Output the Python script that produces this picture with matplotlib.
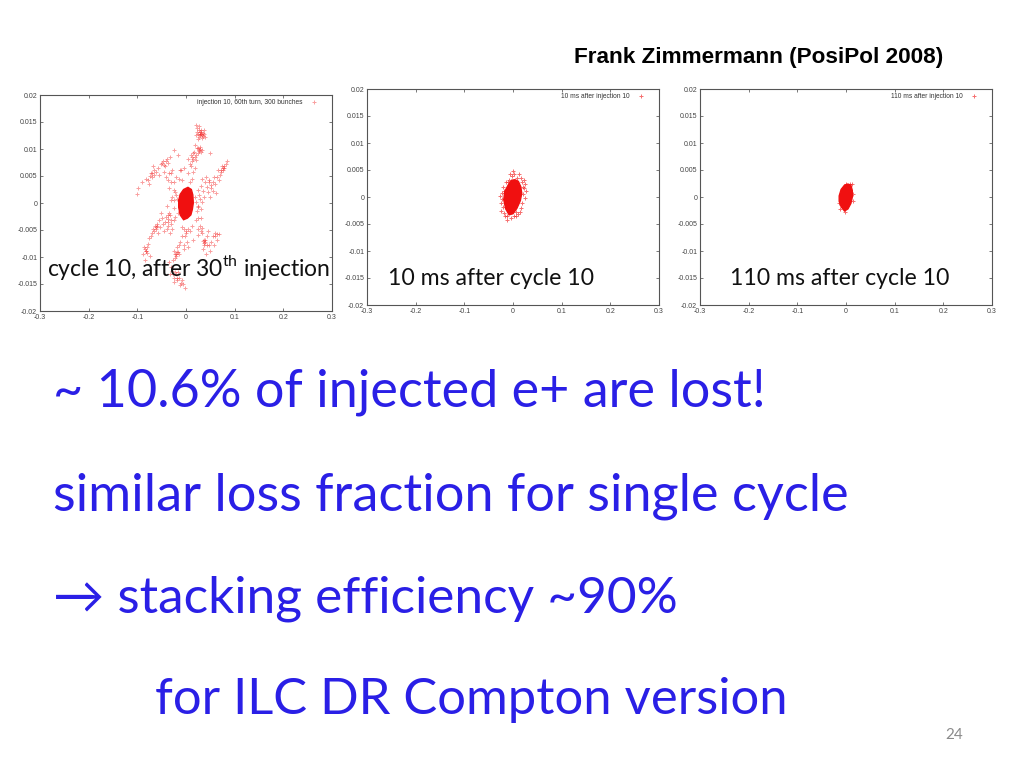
"""Slide: positron stacking losses, three phase-space snapshots plus text."""
import matplotlib
matplotlib.use("Agg")
import matplotlib.pyplot as plt

plt.rcParams.update({
    "font.family": ["Lato", "DejaVu Sans"],
    "mathtext.fontset": "custom",
    "mathtext.rm": "Lato",
    "axes.linewidth": 0.8,
    "axes.edgecolor": "#555555",
})

W, H = 1024, 768
COL_TEXT = "#2A1FE6"
COL_POINTS = "#F01010"
COL_TICK = "#444444"

X_TICKS = [-0.3, -0.2, -0.1, 0, 0.1, 0.2, 0.3]
Y_TICKS = [-0.02, -0.015, -0.01, -0.005, 0, 0.005, 0.01, 0.015, 0.02]
X_LABELS = ["-0.3", "-0.2", "-0.1", "0", "0.1", "0.2", "0.3"]
Y_LABELS = ["-0.02", "-0.015", "-0.01", "-0.005", "0", "0.005", "0.01", "0.015", "0.02"]

# panel 1 halo
HEAD_X = [0.02, 0.023, 0.026, 0.03, 0.034, 0.038, 0.04, 0.025, 0.029, 0.033, 0.021, 0.036, 0.024, 0.028, 0.031, 0.027, 0.035, 0.022]
HEAD_Y = [0.0145, 0.0138, 0.0142, 0.0135, 0.013, 0.0128, 0.0122, 0.0128, 0.0125, 0.012, 0.0125, 0.0135, 0.0118, 0.0132, 0.0128, 0.0122, 0.0124, 0.0132]
NECK_X = [0.018, 0.022, 0.026, 0.03, 0.028, 0.024, 0.032, 0.05, 0.005, 0.01, 0.014, 0.018, 0.012, 0.008, 0.02, 0.016, -0.025, -0.017]
NECK_Y = [0.0108, 0.0102, 0.0098, 0.0095, 0.0103, 0.0092, 0.0098, 0.0093, 0.0082, 0.0088, 0.0092, 0.0085, 0.0078, 0.0072, 0.0079, 0.0095, 0.0098, 0.0088]
ARM_L_X = [-0.1, -0.098, -0.09, -0.082, -0.078, -0.072, -0.07, -0.066, -0.062, -0.058, -0.052, -0.048, -0.044, -0.04, -0.036, -0.032, -0.028, -0.055, -0.046, -0.076, -0.068, -0.042, -0.038, -0.03, -0.025, -0.02, -0.035, -0.022, -0.015, -0.01]
ARM_L_Y = [0.0017, 0.0028, 0.0038, 0.0045, 0.0042, 0.0055, 0.0048, 0.0062, 0.0058, 0.0065, 0.0072, 0.0078, 0.0068, 0.0082, 0.0075, 0.0085, 0.0062, 0.0052, 0.0058, 0.0035, 0.0068, 0.0048, 0.0042, 0.0055, 0.0038, 0.0048, 0.0028, 0.002, 0.0045, 0.0062]
ARM_R_X = [0.025, 0.03, 0.035, 0.04, 0.044, 0.048, 0.052, 0.056, 0.06, 0.064, 0.068, 0.072, 0.075, 0.078, 0.082, 0.085, 0.07, 0.058, 0.046, 0.038, 0.05, 0.042, 0.062, 0.033, 0.055, 0.066, 0.074]
ARM_R_Y = [0.0025, 0.0032, 0.0022, 0.0038, 0.003, 0.0042, 0.0028, 0.0022, 0.0035, 0.0048, 0.0042, 0.0058, 0.0062, 0.0065, 0.0072, 0.0078, 0.0052, 0.0048, 0.002, 0.0012, 0.0012, 0.0048, 0.0018, 0.0045, 0.0038, 0.0062, 0.0068]
TORSO_X = [-0.04, -0.035, -0.03, -0.028, -0.025, -0.02, -0.022, -0.03, -0.018, 0.02, 0.025, 0.028, 0.03, 0.022, 0.032, 0.018, 0.024, -0.016, -0.024, 0.012, 0.005, -0.008, 0.015, 0.008, -0.005, 0.01]
TORSO_Y = [-0.0005, -0.0018, 0.0005, 0.0012, -0.001, 0.0015, -0.0025, -0.0032, 0.0008, 0.0002, -0.0005, 0.0008, -0.0012, -0.0015, 0.0002, 0.0012, -0.0028, -0.0018, 0.0025, 0.0045, 0.0055, 0.0042, 0.0058, 0.0038, 0.0065, 0.0068]
LEG_L_X = [-0.088, -0.085, -0.082, -0.08, -0.084, -0.078, -0.076, -0.072, -0.07, -0.068, -0.066, -0.064, -0.062, -0.06, -0.056, -0.054, -0.05, -0.048, -0.044, -0.042, -0.04, -0.036, -0.032, -0.03, -0.028, -0.025, -0.058, -0.046, -0.038, -0.074, -0.052]
LEG_L_Y = [-0.0095, -0.0085, -0.0088, -0.0082, -0.0105, -0.0075, -0.0065, -0.0062, -0.0055, -0.0048, -0.0052, -0.0042, -0.0045, -0.0038, -0.0032, -0.0045, -0.0028, -0.0038, -0.0035, -0.0025, -0.0048, -0.003, -0.0055, -0.0038, -0.0048, -0.0032, -0.0055, -0.0052, -0.0022, -0.0098, -0.0018]
LEG_R_X = [0.0, 0.004, 0.008, -0.002, 0.012, 0.02, 0.024, 0.028, 0.032, 0.036, 0.04, 0.044, 0.048, 0.052, 0.056, 0.06, 0.064, 0.068, 0.035, 0.042, 0.03, 0.025, 0.05, 0.038, 0.046, 0.058, 0.015, -0.008]
LEG_R_Y = [-0.0055, -0.0048, -0.0052, -0.0062, -0.0042, -0.0032, -0.0048, -0.0042, -0.0055, -0.0068, -0.0072, -0.0062, -0.0078, -0.0072, -0.0062, -0.0055, -0.0068, -0.0058, -0.0085, -0.0095, -0.0028, -0.006, -0.0088, -0.0078, -0.0052, -0.0078, -0.0068, -0.0045]
FOOT_X = [-0.035, -0.03, -0.026, -0.022, -0.018, -0.025, -0.02, -0.015, -0.028, -0.032, -0.024, -0.019, -0.014, -0.01, -0.006, -0.003, -0.012, -0.008, -0.016, -0.004, -0.012, -0.005, 0.002, -0.008, 0.004, -0.018, -0.022, -0.015, -0.02]
FOOT_Y = [-0.011, -0.0118, -0.0105, -0.0095, -0.009, -0.0088, -0.0098, -0.0095, -0.0125, -0.0132, -0.0138, -0.0142, -0.0138, -0.0148, -0.015, -0.0157, -0.0152, -0.0142, -0.0128, -0.0078, -0.0072, -0.0085, -0.0072, -0.0062, -0.0082, -0.0082, -0.0102, -0.0078, -0.0132]
# second pass over the denser clumps
CLUMP_X = [0.026, 0.03, 0.033, 0.028, 0.024, 0.027, 0.029, 0.012, 0.015, 0.02, -0.07, -0.066, -0.073, -0.05, -0.046, -0.042, -0.035, -0.03, 0.075, 0.079, 0.072, 0.052, 0.047, -0.083, -0.08, -0.086, -0.062, -0.059, -0.038, -0.036, 0.035, 0.038, 0.04, 0.043, 0.03, 0.032, -0.02, -0.016, -0.024, -0.018, -0.026, -0.023, 0.0, -0.004, 0.026, 0.024, -0.025, -0.012, 0.018, -0.032, 0.06, 0.064]
CLUMP_Y = [0.0135, 0.0132, 0.0126, 0.0128, 0.0102, 0.0096, 0.01, 0.0086, 0.0082, 0.0088, 0.0056, 0.0052, 0.005, 0.0074, 0.007, 0.0078, 0.0056, 0.0038, 0.0064, 0.0068, 0.0062, 0.0034, 0.0038, -0.0088, -0.0092, -0.0082, -0.0048, -0.0042, -0.0042, -0.0036, -0.007, -0.0074, -0.0068, -0.0078, -0.0052, -0.0046, -0.0094, -0.009, -0.0146, -0.0138, -0.0132, -0.0128, -0.0052, -0.0048, 0.0015, -0.0008, 0.0005, 0.0062, 0.0064, -0.0022, -0.0062, -0.0058]
HALO_1_X = HEAD_X + NECK_X + ARM_L_X + ARM_R_X + TORSO_X + LEG_L_X + LEG_R_X + FOOT_X + CLUMP_X
HALO_1_Y = HEAD_Y + NECK_Y + ARM_L_Y + ARM_R_Y + TORSO_Y + LEG_L_Y + LEG_R_Y + FOOT_Y + CLUMP_Y

# dense core of each panel: outline of the solid blob, filled below
CORE_1_X = [0.004, 0.011, 0.014, 0.015, 0.013, 0.01, 0.003, -0.005, -0.012, -0.015, -0.015, -0.012, -0.005]
CORE_1_Y = [0.0029, 0.0025, 0.0015, 0.0, -0.0012, -0.0022, -0.0028, -0.0031, -0.0022, -0.0008, 0.0005, 0.0016, 0.0025]
CORE_2_X = [0.004, 0.011, 0.016, 0.018, 0.015, 0.008, 0.0, -0.008, -0.015, -0.019, -0.017, -0.01, -0.003]
CORE_2_Y = [0.0032, 0.0029, 0.0019, 0.0007, -0.0007, -0.0021, -0.0031, -0.0033, -0.0022, -0.0005, 0.001, 0.0022, 0.0031]
CORE_3_X = [0.004, 0.01, 0.013, 0.013, 0.01, 0.004, -0.003, -0.01, -0.014, -0.014, -0.01, -0.003]
CORE_3_Y = [0.0024, 0.0022, 0.0012, 0.0, -0.0012, -0.0022, -0.0026, -0.0018, -0.0008, 0.0002, 0.0014, 0.0022]

FRINGE_2_X = [0.0, 0.012, 0.016, 0.025, 0.026, 0.024, 0.022, -0.006, -0.012, -0.024, -0.025, -0.02, -0.008, 0.006, -0.026, 0.014, 0.023, -0.016, 0.018, 0.02, 0.021, 0.019, -0.021, -0.022, -0.019, -0.018, -0.014, -0.003, 0.003, 0.008, 0.007, -0.005, 0.01, -0.012, -0.011, 0.003, 0.017, -0.023]
FRINGE_2_Y = [0.0048, 0.0043, 0.0035, 0.0025, 0.0012, -0.0002, 0.0016, 0.0042, -0.0042, -0.0012, -0.0025, 0.0018, 0.0032, -0.0035, 0.0002, -0.0028, 0.0032, -0.0036, 0.0028, 0.0018, 0.0005, -0.0012, -0.0018, 0.0008, -0.003, 0.0012, 0.0028, 0.0038, 0.0042, 0.0036, -0.0028, -0.0039, -0.0032, -0.0036, 0.0027, -0.0036, -0.002, -0.0004]
FRINGE_3_X = [0.008, 0.012, 0.015, -0.015, -0.012, -0.002, 0.0, 0.014]
FRINGE_3_Y = [0.0025, 0.0024, 0.0006, -0.0012, -0.0022, -0.0028, 0.0024, -0.0008]

LEGEND_LABELS = [
    "injection 10, 60th turn, 300 bunches",
    "10 ms after injection 10",
    "110 ms after injection 10",
]
PANEL_CAPTIONS = [
    "cycle 10, after 30$^{\\mathrm{th}}$ injection",
    "10 ms after cycle 10",
    "110 ms after cycle 10",
]
BODY_LINES = [
    "~ 10.6% of injected e+ are lost!",
    "similar loss fraction for single cycle",
    "\u2192 stacking efficiency ~90%",
    "for ILC DR Compton version",
]


def add_panel(fig, box, halo_x, halo_y, core_x, core_y, legend, halo_alpha):
    left, top, right, bottom = box
    ax = fig.add_axes([left / W, 1 - bottom / H, (right - left) / W, (bottom - top) / H])
    ax.fill(core_x, core_y, color=COL_POINTS, linewidth=1.0, zorder=3)
    ax.scatter(halo_x, halo_y, s=8, marker="+", color=COL_POINTS, linewidth=0.7,
               alpha=halo_alpha, zorder=2, label=legend)
    ax.set_xlim(-0.3, 0.3)
    ax.set_ylim(-0.02, 0.02)
    ax.set_xticks(X_TICKS, X_LABELS)
    ax.set_yticks(Y_TICKS, Y_LABELS)
    ax.tick_params(direction="in", top=True, right=True, length=2, width=0.5,
                   labelsize=5, labelcolor=COL_TICK, color=COL_TICK, pad=2)
    for lab in ax.get_xticklabels() + ax.get_yticklabels():
        lab.set_family("Liberation Sans")
    leg = ax.legend(loc="upper right", bbox_to_anchor=(0.97, 1.0), frameon=False, fontsize=4.8,
                    markerfirst=False, handletextpad=0.9, handlelength=1.6, markerscale=0.8,
                    borderaxespad=0.2)
    for txt in leg.get_texts():
        txt.set_family("Liberation Sans")
        txt.set_color("#333333")
    return ax


def put_text(fig, x, y, s, **kw):
    # x, y in picture pixels, y is the text baseline
    fig.text(x / W, 1 - y / H, s, va="baseline", ha="left", **kw)


def main():
    fig = plt.figure(figsize=(W / 100, H / 100), dpi=100, facecolor="white")

    add_panel(fig, (40, 95, 332, 311), HALO_1_X, HALO_1_Y, CORE_1_X, CORE_1_Y, LEGEND_LABELS[0], 0.4)
    add_panel(fig, (367, 89, 659, 305), FRINGE_2_X, FRINGE_2_Y, CORE_2_X, CORE_2_Y, LEGEND_LABELS[1], 0.6)
    add_panel(fig, (700, 89, 992, 305), FRINGE_3_X, FRINGE_3_Y, CORE_3_X, CORE_3_Y, LEGEND_LABELS[2], 0.6)

    put_text(fig, 47, 276, PANEL_CAPTIONS[0], fontsize=16.5, color="#111111")
    put_text(fig, 388, 285, PANEL_CAPTIONS[1], fontsize=16.6, color="#111111")
    put_text(fig, 730, 285, PANEL_CAPTIONS[2], fontsize=16.6, color="#111111")

    put_text(fig, 574, 63, "Frank Zimmermann (PosiPol 2008)", fontsize=16.2,
             fontweight="bold", family="Liberation Sans", color="black")

    put_text(fig, 53, 407, BODY_LINES[0], fontsize=37.5, color=COL_TEXT)
    put_text(fig, 53, 510, BODY_LINES[1], fontsize=37.6, color=COL_TEXT)
    put_text(fig, 53, 612, BODY_LINES[2], fontsize=37, color=COL_TEXT)
    put_text(fig, 155, 714, BODY_LINES[3], fontsize=36.5, color=COL_TEXT)

    put_text(fig, 945, 739, "24", fontsize=11, color="#8A8A8A")

    fig.savefig("out.png", dpi=100)
    plt.close(fig)


if __name__ == "__main__":
    main()
